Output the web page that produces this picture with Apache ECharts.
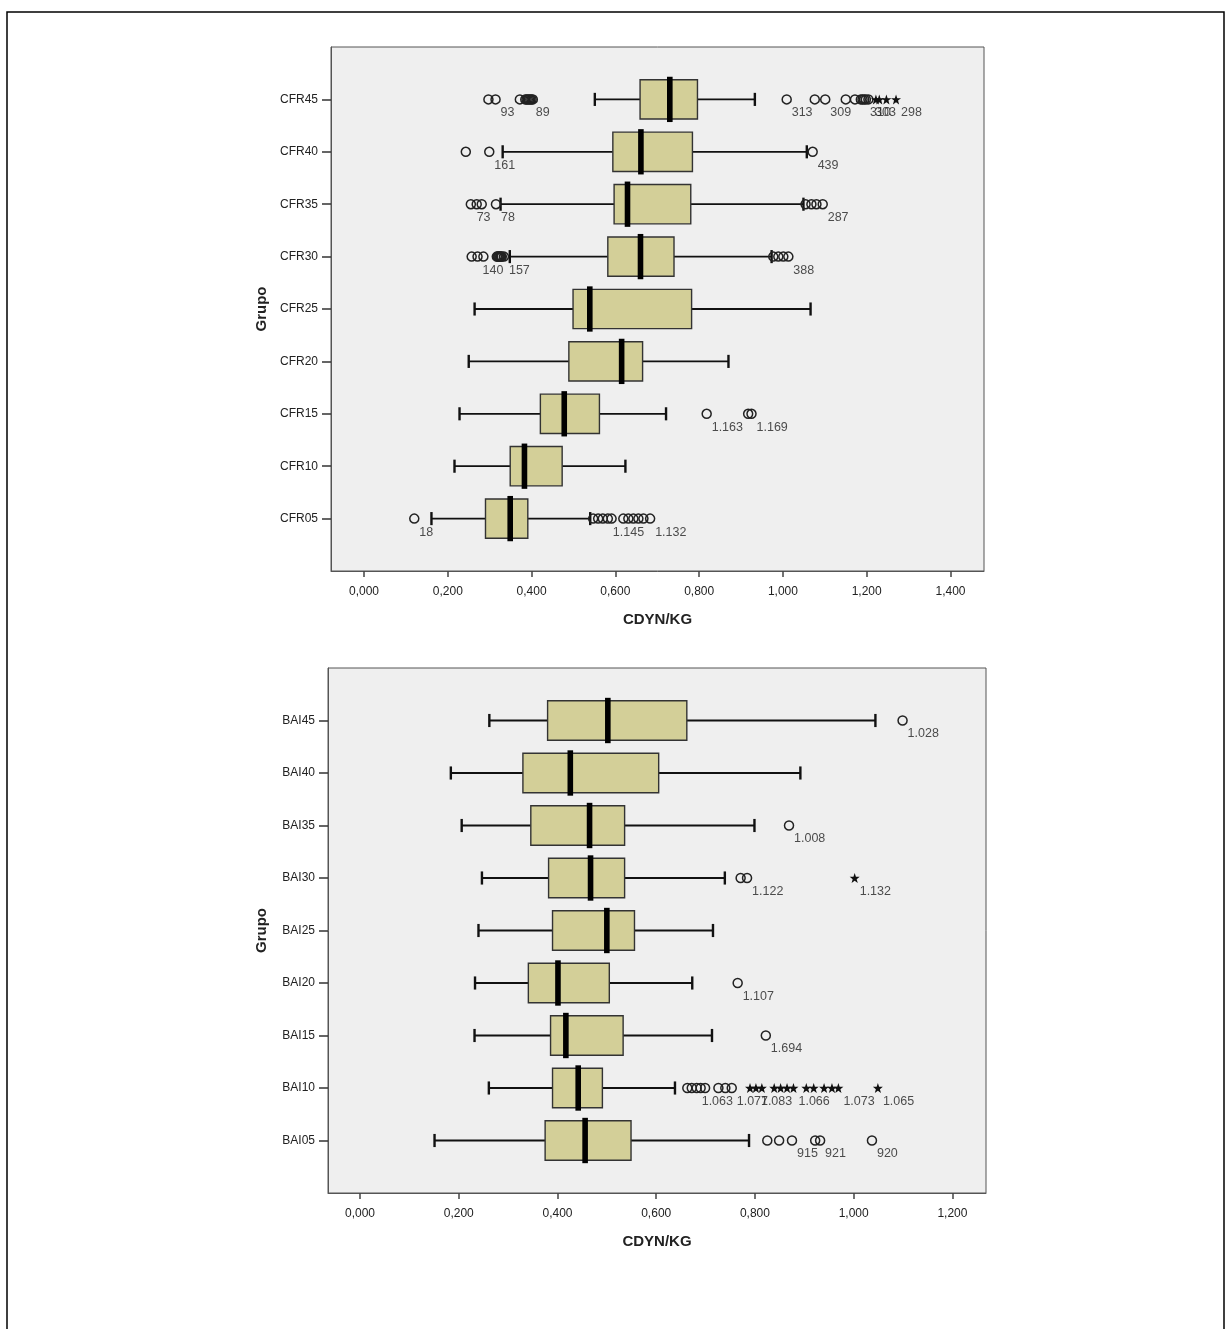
<!DOCTYPE html>
<html>
<head>
<meta charset="utf-8">
<script src="https://cdn.jsdelivr.net/npm/echarts@6/dist/echarts.min.js"></script>
<style>
html,body{margin:0;padding:0;background:#fff;}
#c{width:1231px;height:1329px;}
</style>
</head>
<body>
<div id="c"></div>
<script>
// ---------- Top chart (CFR) : groups listed bottom -> top ----------
const cfrGroups = ['CFR05','CFR10','CFR15','CFR20','CFR25','CFR30','CFR35','CFR40','CFR45'];
const cfrLow  = [0.161, 0.216, 0.228, 0.250, 0.264, 0.348, 0.326, 0.331, 0.551];
const cfrQ1   = [0.290, 0.349, 0.421, 0.489, 0.499, 0.582, 0.597, 0.594, 0.659];
const cfrMed  = [0.349, 0.383, 0.478, 0.615, 0.539, 0.660, 0.629, 0.661, 0.730];
const cfrQ3   = [0.391, 0.473, 0.562, 0.665, 0.782, 0.740, 0.780, 0.784, 0.796];
const cfrHigh = [0.540, 0.624, 0.721, 0.870, 1.066, 0.973, 1.049, 1.057, 0.933];
const cfrCircles = [
  [0.120, 0.547, 0.559, 0.570, 0.582, 0.591, 0.619, 0.631, 0.643, 0.655, 0.667, 0.683],
  [],
  [0.818, 0.917, 0.925],
  [],
  [],
  [0.257, 0.271, 0.285, 0.317, 0.319, 0.321, 0.323, 0.325, 0.327, 0.329, 0.334, 0.977, 0.989, 1.001, 1.013],
  [0.255, 0.269, 0.281, 0.315, 1.054, 1.068, 1.080, 1.095],
  [0.243, 0.299, 1.071],
  [0.297, 0.314, 0.372, 0.385, 0.388, 0.391, 0.394, 0.397, 0.400, 0.403,
   1.009, 1.076, 1.101, 1.150, 1.172, 1.186, 1.190, 1.194, 1.198, 1.204]
];
const cfrStars = [[], [], [], [], [], [], [], [], [1.222, 1.230, 1.247, 1.270]];
const cfrLabels = [
  [[0.120, '18'], [0.582, '1.145'], [0.683, '1.132']],
  [],
  [[0.818, '1.163'], [0.925, '1.169']],
  [],
  [],
  [[0.271, '140'], [0.334, '157'], [1.013, '388']],
  [[0.257, '73'], [0.315, '78'], [1.095, '287']],
  [[0.299, '161'], [1.071, '439']],
  [[0.314, '93'], [0.398, '89'], [1.009, '313'], [1.101, '309'], [1.196, '310'], [1.208, '303'], [1.270, '298']]
];
const cfrTicks = [0, 0.2, 0.4, 0.6, 0.8, 1.0, 1.2, 1.4];

// ---------- Bottom chart (BAI) ----------
const baiGroups = ['BAI05','BAI10','BAI15','BAI20','BAI25','BAI30','BAI35','BAI40','BAI45'];
const baiLow  = [0.151, 0.261, 0.232, 0.233, 0.240, 0.247, 0.206, 0.184, 0.262];
const baiQ1   = [0.375, 0.390, 0.386, 0.341, 0.390, 0.382, 0.346, 0.330, 0.380];
const baiMed  = [0.456, 0.442, 0.417, 0.401, 0.500, 0.467, 0.465, 0.426, 0.502];
const baiQ3   = [0.549, 0.491, 0.533, 0.505, 0.556, 0.536, 0.536, 0.605, 0.662];
const baiHigh = [0.788, 0.638, 0.713, 0.673, 0.715, 0.739, 0.799, 0.892, 1.044];
const baiCircles = [
  [0.825, 0.849, 0.875, 0.922, 0.932, 1.037],
  [0.663, 0.672, 0.682, 0.690, 0.699, 0.726, 0.740, 0.753],
  [0.822],
  [0.765],
  [],
  [0.771, 0.784],
  [0.869],
  [],
  [1.099]
];
const baiStars = [
  [],
  [0.790, 0.802, 0.814, 0.839, 0.852, 0.865, 0.878, 0.904, 0.919, 0.940, 0.956, 0.969, 1.049],
  [], [], [],
  [1.002],
  [], [], []
];
const baiLabels = [
  [[0.875, '915'], [0.932, '921'], [1.037, '920']],
  [[0.682, '1.063'], [0.753, '1.077'], [0.802, '1.083'], [0.878, '1.066'], [0.969, '1.073'], [1.049, '1.065']],
  [[0.822, '1.694']],
  [[0.765, '1.107']],
  [],
  [[0.784, '1.122'], [1.002, '1.132']],
  [[0.869, '1.008']],
  [],
  [[1.099, '1.028']]
];
const baiTicks = [0, 0.2, 0.4, 0.6, 0.8, 1.0, 1.2];

const FONT = '"Liberation Sans", Arial, sans-serif';
const STAR = 'path://M0,-10L2.35,-3.24L9.51,-3.09L3.8,1.24L5.88,8.09L0,4L-5.88,8.09L-3.8,1.24L-9.51,-3.09L-2.35,-3.24Z';
const fmtNum = v => v.toFixed(3).replace('.', ',');

function boxSeries(idx, low, q1, med, q3, high) {
  return {
    type: 'custom', xAxisIndex: idx, yAxisIndex: idx, z: 2, silent: true,
    data: low.map((v, k) => [k + 1, low[k], q1[k], med[k], q3[k], high[k]]),
    encode: { x: [1, 2, 3, 4, 5], y: 0 },
    renderItem: function (params, api) {
      const y = api.value(0);
      const pl = api.coord([api.value(1), y]);
      const p1 = api.coord([api.value(2), y]);
      const pm = api.coord([api.value(3), y]);
      const p3 = api.coord([api.value(4), y]);
      const ph = api.coord([api.value(5), y]);
      const bh = api.size([0, 0.75])[1];
      const ch = api.size([0, 0.25])[1];
      const cy = pl[1];
      const wl = { stroke: '#111', lineWidth: 1.8 };
      const cl = { stroke: '#111', lineWidth: 2.4 };
      return {
        type: 'group',
        children: [
          { type: 'line', shape: { x1: pl[0], y1: cy, x2: p1[0], y2: cy }, style: wl },
          { type: 'line', shape: { x1: p3[0], y1: cy, x2: ph[0], y2: cy }, style: wl },
          { type: 'line', shape: { x1: pl[0], y1: cy - ch / 2, x2: pl[0], y2: cy + ch / 2 }, style: cl },
          { type: 'line', shape: { x1: ph[0], y1: cy - ch / 2, x2: ph[0], y2: cy + ch / 2 }, style: cl },
          { type: 'rect', shape: { x: p1[0], y: cy - bh / 2, width: p3[0] - p1[0], height: bh },
            style: { fill: '#d3cf98', stroke: '#333', lineWidth: 1.4 } },
          { type: 'rect', shape: { x: pm[0] - 2.8, y: cy - bh / 2 - 3, width: 5.6, height: bh + 6 },
            style: { fill: '#000' } }
        ]
      };
    }
  };
}

function outlierSeries(idx, circles, stars, labels) {
  const cData = [], sData = [], lData = [];
  circles.forEach((arr, k) => arr.forEach(v => cData.push([v, k + 1])));
  stars.forEach((arr, k) => arr.forEach(v => sData.push([v, k + 1])));
  labels.forEach((arr, k) => arr.forEach(p => lData.push({ value: [p[0], k + 1], name: p[1] })));
  return [
    { type: 'scatter', xAxisIndex: idx, yAxisIndex: idx, z: 3, silent: true,
      symbol: 'circle', symbolSize: 9, data: cData,
      itemStyle: { color: 'rgba(0,0,0,0)', borderColor: '#222', borderWidth: 1.5, opacity: 1 } },
    { type: 'scatter', xAxisIndex: idx, yAxisIndex: idx, z: 3, silent: true,
      symbol: STAR, symbolSize: 10, data: sData, itemStyle: { color: '#111', opacity: 1 } },
    { type: 'scatter', xAxisIndex: idx, yAxisIndex: idx, z: 4, silent: true,
      symbol: 'circle', symbolSize: 2, data: lData,
      itemStyle: { color: 'rgba(0,0,0,0)', borderWidth: 0 },
      label: { show: true, formatter: '{b}', position: [6, 8], fontSize: 12.5,
               color: '#222', fontFamily: FONT } }
  ];
}

function xAxisOf(idx, ticks, min, max) {
  return {
    type: 'value', gridIndex: idx, min: min, max: max,
    name: 'CDYN/KG', nameLocation: 'middle', nameGap: 41,
    nameTextStyle: { fontFamily: FONT, fontSize: 15, fontWeight: 'bold', color: '#222' },
    axisLine: { show: true, onZero: false, lineStyle: { color: '#555', width: 1 } },
    axisTick: { show: true, length: 6, customValues: ticks, lineStyle: { color: '#444', width: 1.5 } },
    axisLabel: { customValues: ticks, formatter: fmtNum, margin: 15, fontSize: 12,
                 fontFamily: FONT, color: '#222' },
    splitLine: { show: false }
  };
}
function yAxisOf(idx, groups, gap) {
  const vals = groups.map((g, k) => k + 1);
  return {
    type: 'value', gridIndex: idx, min: 0, max: groups.length + 1,
    name: 'Grupo', nameLocation: 'middle', nameGap: gap, nameRotate: 90,
    nameTextStyle: { fontFamily: FONT, fontSize: 15, fontWeight: 'bold', color: '#222' },
    axisLine: { show: true, onZero: false, lineStyle: { color: '#555', width: 1 } },
    axisTick: { show: true, length: 9, customValues: vals, lineStyle: { color: '#333', width: 1.5 } },
    axisLabel: { customValues: vals, formatter: v => groups[Math.round(v) - 1] || '', margin: 13,
                 fontSize: 12, fontFamily: FONT, color: '#222' },
    splitLine: { show: false }
  };
}

const chart = echarts.init(document.getElementById('c'), null, { renderer: 'canvas' });
chart.setOption({
  backgroundColor: '#fff',
  animation: false,
  graphic: [{ type: 'rect', shape: { x: 7, y: 12, width: 1217, height: 1340 },
              style: { fill: 'none', stroke: '#000', lineWidth: 1.5 }, silent: true }],
  grid: [
    { left: 331, top: 47, width: 653, height: 524, show: true, backgroundColor: '#efefef',
      borderColor: '#555', borderWidth: 1 },
    { left: 328, top: 668, width: 658, height: 525, show: true, backgroundColor: '#efefef',
      borderColor: '#555', borderWidth: 1 }
  ],
  xAxis: [
    xAxisOf(0, cfrTicks, -0.0788, 1.480),
    xAxisOf(1, baiTicks, -0.0648, 1.268)
  ],
  yAxis: [yAxisOf(0, cfrGroups, 62), yAxisOf(1, baiGroups, 59)],
  series: [
    boxSeries(0, cfrLow, cfrQ1, cfrMed, cfrQ3, cfrHigh),
    ...outlierSeries(0, cfrCircles, cfrStars, cfrLabels),
    boxSeries(1, baiLow, baiQ1, baiMed, baiQ3, baiHigh),
    ...outlierSeries(1, baiCircles, baiStars, baiLabels)
  ]
});
</script>
</body>
</html>
